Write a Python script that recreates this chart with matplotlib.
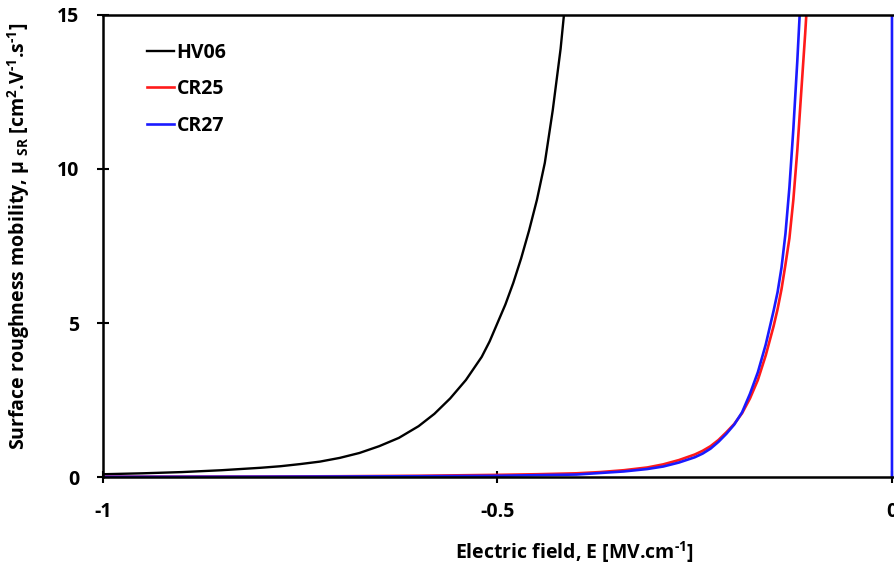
import matplotlib
matplotlib.use("Agg")
import matplotlib.pyplot as plt

# values (E in MV/cm, mobility in cm2/V/s)
hv06_E = [-1.0, -0.95, -0.9, -0.85, -0.8, -0.775, -0.75, -0.725, -0.7, -0.675,
          -0.65, -0.625, -0.6, -0.58, -0.56, -0.54, -0.52, -0.51, -0.5, -0.49,
          -0.48, -0.47, -0.46, -0.45, -0.44, -0.43, -0.42, -0.415]
hv06_mu = [0.09, 0.12, 0.16, 0.22, 0.3, 0.35, 0.42, 0.5, 0.62, 0.78,
           1.0, 1.27, 1.65, 2.05, 2.55, 3.15, 3.9, 4.4, 5.0, 5.6,
           6.3, 7.1, 8.0, 9.0, 10.2, 11.9, 13.9, 15.2]

cr25_E = [-1.0, -0.9, -0.8, -0.7, -0.6, -0.5, -0.45, -0.4, -0.37, -0.34,
          -0.31, -0.29, -0.27, -0.25, -0.24, -0.23, -0.22, -0.21, -0.2, -0.19,
          -0.18, -0.17, -0.16, -0.15, -0.145, -0.14, -0.135, -0.13, -0.125,
          -0.12, -0.115, -0.11, -0.105]
cr25_mu = [0.01, 0.012, 0.015, 0.025, 0.04, 0.07, 0.09, 0.12, 0.16, 0.22,
           0.31, 0.41, 0.55, 0.73, 0.85, 1.0, 1.2, 1.45, 1.72, 2.07,
           2.55, 3.15, 3.95, 4.9, 5.45, 6.1, 6.9, 7.75, 9.0,
           10.6, 12.5, 14.4, 16.5]

cr27_E = [-1.0, -0.9, -0.8, -0.7, -0.6, -0.5, -0.45, -0.4, -0.37, -0.34,
          -0.31, -0.29, -0.27, -0.25, -0.24, -0.23, -0.22, -0.21, -0.2, -0.19,
          -0.18, -0.17, -0.16, -0.155, -0.15, -0.145, -0.14, -0.135, -0.13,
          -0.125, -0.12, -0.115, 0.0, 0.0]
cr27_mu = [0.005, 0.007, 0.01, 0.016, 0.025, 0.04, 0.06, 0.08, 0.13, 0.18,
           0.26, 0.34, 0.47, 0.64, 0.76, 0.92, 1.14, 1.4, 1.7, 2.1,
           2.7, 3.4, 4.3, 4.85, 5.4, 6.0, 6.8, 7.9, 9.4,
           11.3, 13.5, 16.0, 100.0, 0.0]

x_ticks = [-1, -0.5, 0]
x_ticklabels = ["-1", "-0.5", "0"]
y_ticks = [0, 5, 10, 15]

plt.rcParams['font.family'] = ['Open Sans', 'DejaVu Sans']
plt.rcParams['font.weight'] = 'bold'
plt.rcParams['mathtext.fontset'] = 'custom'
plt.rcParams['mathtext.rm'] = 'Open Sans:bold'
plt.rcParams['mathtext.it'] = 'Open Sans:bold'
plt.rcParams['mathtext.bf'] = 'Open Sans:bold'
plt.rcParams['mathtext.default'] = 'rm'

fig = plt.figure(figsize=(8.94, 5.68), dpi=100)
# x range runs a hair past 0 so the vertical CR27 segment at E=0 is not half clipped
ax = fig.add_axes([0.1152, 0.1602, 0.8843, 0.8134])

ax.plot(hv06_E, hv06_mu, color='black', lw=1.7, label='HV06')
ax.plot(cr25_E, cr25_mu, color='#ff1a1a', lw=1.9, label='CR25')
ax.plot(cr27_E, cr27_mu, color='#1a1aff', lw=1.9, label='CR27')

ax.set_xlim(-1, 0.002)
ax.set_ylim(0, 15)
ax.set_xticks(x_ticks)
ax.set_xticklabels(x_ticklabels)
ax.set_yticks(y_ticks)

for side in ['left', 'bottom', 'top']:
    ax.spines[side].set_linewidth(1.8)
ax.spines['right'].set_visible(False)

ax.tick_params(axis='both', direction='inout', length=8, width=1.5,
               labelsize=14)
ax.tick_params(axis='y', pad=13)
ax.tick_params(axis='x', pad=14)

# titles sit where the (wider, cropped) original plot area centred them
ax.set_xlabel(r"Electric field, E [MV.cm$^{\text{-}1}$]", fontsize=14,
              fontweight='bold')
ax.xaxis.set_label_coords(0.596, -0.135)
ax.set_ylabel(r"Surface roughness mobility, μ $_{SR}$ [cm$^{2}$.V$^{\text{-}1}$.s$^{\text{-}1}$]",
              fontsize=14, fontweight='bold')
ax.yaxis.set_label_coords(-0.09, 0.52)

ax.legend(loc='upper left', bbox_to_anchor=(0.056, 0.94), frameon=False,
          handlelength=1.4, handletextpad=0.1, labelspacing=0.85,
          borderpad=0, borderaxespad=0, prop={'weight': 'bold', 'size': 14})

fig.savefig('out.png', dpi=100)
